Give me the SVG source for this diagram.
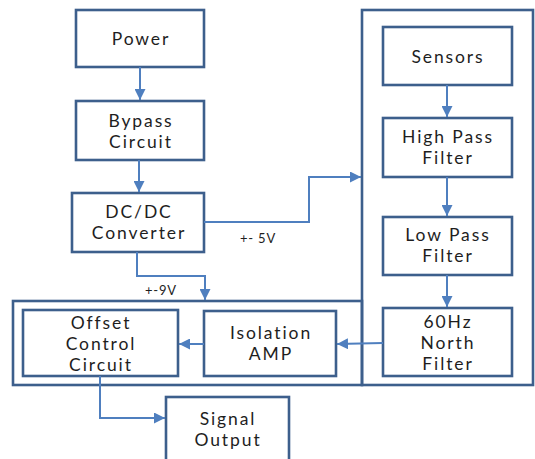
<svg xmlns="http://www.w3.org/2000/svg" width="535" height="459" viewBox="0 0 535 459">
<defs>
<marker id="ah" viewBox="0 0 10 10" refX="10" refY="5" markerWidth="5.5" markerHeight="5.5" orient="auto" markerUnits="strokeWidth">
<path d="M0,0 L10,5 L0,10 z" fill="#4f7fbf"/>
</marker>
<style>
.box{fill:#fff;stroke:#3d5f8c;stroke-width:2.6}
.frame{fill:none;stroke:#3d5f8c;stroke-width:2.6}
.t{font-family:Lato,"Open Sans",sans-serif;font-size:17.5px;letter-spacing:1.9px;fill:#1e1e1e;text-anchor:middle}
.lbl{font-family:Lato,"Open Sans",sans-serif;font-size:13px;letter-spacing:0.8px;fill:#1e1e1e}
.c{fill:none;stroke:#4f7fbf;stroke-width:2}
</style>
</defs>
<rect width="535" height="459" fill="#fff"/>
<g id="frames">
<rect class="frame" x="13" y="301" width="349" height="84"/>
<rect class="frame" x="362" y="10" width="171" height="375"/>
</g>
<g id="power"><rect class="box" x="76" y="10" width="128" height="57"/><text class="t" x="141" y="45">Power</text></g>
<g id="bypass"><rect class="box" x="76" y="101" width="128" height="59"/><text class="t" x="141" y="127">Bypass</text><text class="t" x="141" y="148">Circuit</text></g>
<g id="dcdc"><rect class="box" x="72" y="193" width="132" height="59"/><text class="t" x="139" y="218">DC/DC</text><text class="t" x="139" y="239">Converter</text></g>
<g id="sensors"><rect class="box" x="383" y="27" width="129" height="58"/><text class="t" x="448" y="63">Sensors</text></g>
<g id="hpf"><rect class="box" x="383" y="118" width="129" height="59"/><text class="t" x="448" y="143">High Pass</text><text class="t" x="448" y="164">Filter</text></g>
<g id="lpf"><rect class="box" x="383" y="217" width="129" height="58"/><text class="t" x="448" y="241">Low Pass</text><text class="t" x="448" y="262">Filter</text></g>
<g id="notch"><rect class="box" x="383" y="308" width="129" height="68"/><text class="t" x="448" y="328">60Hz</text><text class="t" x="448" y="349">North</text><text class="t" x="448" y="370">Filter</text></g>
<g id="iso"><rect class="box" x="204" y="311" width="132" height="65"/><text class="t" x="271" y="339">Isolation</text><text class="t" x="271" y="360">AMP</text></g>
<g id="offset"><rect class="box" x="23" y="310" width="155" height="66"/><text class="t" x="101" y="329">Offset</text><text class="t" x="101" y="350">Control</text><text class="t" x="101" y="371">Circuit</text></g>
<g id="signal"><rect class="box" x="166" y="397" width="123" height="75"/><text class="t" x="228" y="425">Signal</text><text class="t" x="228" y="446">Output</text></g>
<g id="connectors">
<path class="c" d="M140,67 V100" marker-end="url(#ah)"/>
<path class="c" d="M139,160 V192" marker-end="url(#ah)"/>
<path class="c" d="M204,222 H309 V177 H361" marker-end="url(#ah)"/>
<path class="c" d="M137,252 V276 H205 V300" marker-end="url(#ah)"/>
<path class="c" d="M447,85 V117" marker-end="url(#ah)"/>
<path class="c" d="M447,177 V216" marker-end="url(#ah)"/>
<path class="c" d="M447,275 V307" marker-end="url(#ah)"/>
<path class="c" d="M383,343 L337,344" marker-end="url(#ah)"/>
<path class="c" d="M204,344 H179" marker-end="url(#ah)"/>
<path class="c" d="M100,376 V418 H165" marker-end="url(#ah)"/>
<text class="lbl" x="240" y="243">+-  5V</text>
<text class="lbl" x="145" y="295">+-9V</text>
</g>
</svg>
